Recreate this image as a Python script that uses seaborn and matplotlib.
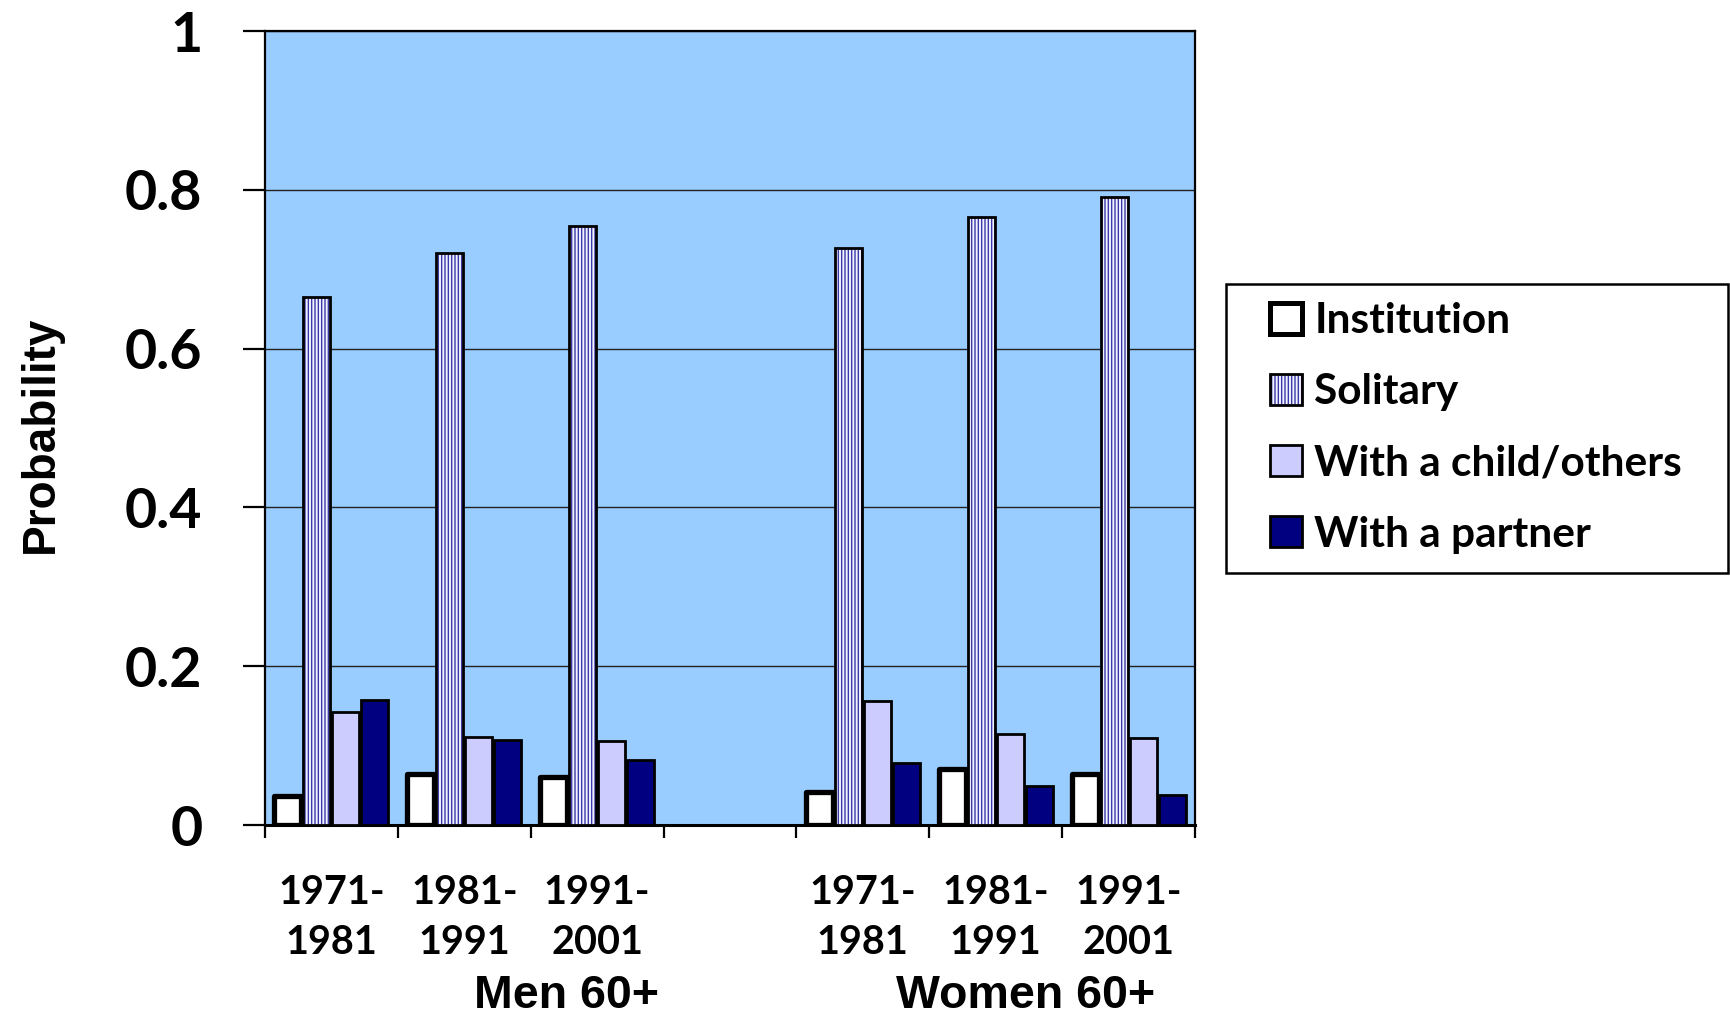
import matplotlib
matplotlib.use("Agg")
import matplotlib.pyplot as plt
from matplotlib.patches import Patch, Rectangle
from matplotlib.legend_handler import HandlerTuple
import pandas as pd
import seaborn as sns

# ---- data -------------------------------------------------------------
groups = ["Men 60+", "Women 60+"]
periods = ["1971-\n1981", "1981-\n1991", "1991-\n2001"]
arrangements = ["Institution", "Solitary", "With a child/others", "With a partner"]

men_institution = [0.037, 0.064, 0.061]
men_solitary = [0.665, 0.720, 0.754]
men_child = [0.142, 0.111, 0.106]
men_partner = [0.157, 0.107, 0.082]

women_institution = [0.042, 0.070, 0.064]
women_solitary = [0.727, 0.766, 0.791]
women_child = [0.156, 0.115, 0.110]
women_partner = [0.078, 0.049, 0.038]

y_ticks = [0, 0.2, 0.4, 0.6, 0.8, 1.0]
y_tick_labels = ["0", "0.2", "0.4", "0.6", "0.8", "1"]

# ---- long-form table ---------------------------------------------------
series = {
    "Men 60+": [men_institution, men_solitary, men_child, men_partner],
    "Women 60+": [women_institution, women_solitary, women_child, women_partner],
}
rows = []
for g in groups:
    for arr, vals in zip(arrangements, series[g]):
        for p, v in zip(periods, vals):
            rows.append({"slot": f"{g}|{p}", "arrangement": arr, "value": v})
df = pd.DataFrame(rows)

spacer = "spacer"
order = [f"Men 60+|{p}" for p in periods] + [spacer] + [f"Women 60+|{p}" for p in periods]
slot_labels = periods + [""] + periods

colors = {
    "Institution": "#FFFFFF",
    "Solitary": "#F2F2FF",
    "With a child/others": "#CCCCFF",
    "With a partner": "#000080",
}
stripe_color = "#3A3AA8"

# ---- figure ------------------------------------------------------------
W, H = 1730, 1025
fig = plt.figure(figsize=(W / 100, H / 100), dpi=100)
ax = fig.add_axes([265 / W, 1 - 825 / H, 930 / W, 794 / H])
ax.set_facecolor("#99CCFF")

sns.barplot(
    data=df, x="slot", y="value", hue="arrangement",
    order=order, hue_order=arrangements, palette=colors,
    saturation=1, errorbar=None, width=0.873, gap=0.07,
    legend=False, ax=ax, zorder=3,
)

for name, cont in zip(arrangements, ax.containers):
    for bar in cont:
        if name == "Institution":
            bar.set_edgecolor("black")
            bar.set_linewidth(3.8)
            bar.set_joinstyle("round")
        elif name == "Solitary":
            bar.set_edgecolor(stripe_color)
            bar.set_linewidth(0)
            bar.set_hatch("|||||")
            ax.add_patch(Rectangle(bar.get_xy(), bar.get_width(), bar.get_height(),
                                   fill=False, edgecolor="black", linewidth=2.0,
                                   zorder=4))
        else:
            bar.set_edgecolor("black")
            bar.set_linewidth(2.0)

# ---- axes styling ------------------------------------------------------
ax.set_ylim(0, 1)
ax.set_xlim(-0.5, len(order) - 0.5)
ax.set_axisbelow(True)
ax.yaxis.grid(True, color="#222222", linewidth=1.0, zorder=0)
ax.xaxis.grid(False)
for sp in ax.spines.values():
    sp.set_visible(True)
    sp.set_color("black")
    sp.set_linewidth(1.6)
ax.spines["bottom"].set_linewidth(2.2)

tick_font = dict(family="Lato", weight="bold")
ax.set_yticks(y_ticks)
ax.set_yticklabels(y_tick_labels, fontsize=40, **tick_font)
ax.tick_params(axis="y", direction="out", length=16, width=1.6, pad=29)

ax.set_xticks(range(len(order)))
ax.set_xticklabels(slot_labels, fontsize=28.5, linespacing=1.45, **tick_font)
ax.set_xticks([i - 0.5 for i in range(len(order) + 1)], minor=True)
ax.tick_params(axis="x", which="major", length=0, pad=35)
ax.tick_params(axis="x", which="minor", direction="out", length=9.5, width=1.6)
ax.set_xlabel("")
ax.set_ylabel("")

# ---- titles ------------------------------------------------------------
label_font = dict(family="Liberation Sans", weight="bold")
fig.text(41 / W, 1 - 434 / H, "Probability", rotation=90, ha="center", va="center",
         fontsize=33, **label_font)
fig.text(566 / W, 1 - 996 / H, groups[0], ha="center", va="center", fontsize=33.5, **label_font)
fig.text(1026 / W, 1 - 996 / H, groups[1], ha="center", va="center", fontsize=33.5, **label_font)

# ---- legend ------------------------------------------------------------
handles = []
for name in arrangements:
    if name == "Solitary":
        h = (Patch(facecolor=colors[name], edgecolor=stripe_color, linewidth=0, hatch="|||||"),
             Patch(fill=False, edgecolor="black", linewidth=2.0))
    else:
        h = Patch(facecolor=colors[name], edgecolor="black",
                  linewidth=3.6 if name == "Institution" else 2.0)
    handles.append(h)

leg = fig.legend(
    handles, arrangements, loc="center left",
    bbox_to_anchor=(1270 / W, 1 - 428 / H), borderaxespad=0, borderpad=0,
    handler_map={tuple: HandlerTuple(ndivide=1, pad=0)},
    prop=dict(family="Lato", weight="bold", size=30.5),
    frameon=False, labelspacing=0.78, handlelength=0.75, handleheight=0.75,
    handletextpad=0.3,
)
# legend box drawn as its own frame
fig.patches.append(Rectangle((1226 / W, 1 - 573 / H), 502 / W, 289 / H,
                             transform=fig.transFigure, fill=False,
                             edgecolor="black", linewidth=1.8, zorder=5))

fig.savefig("out.png", dpi=100)
